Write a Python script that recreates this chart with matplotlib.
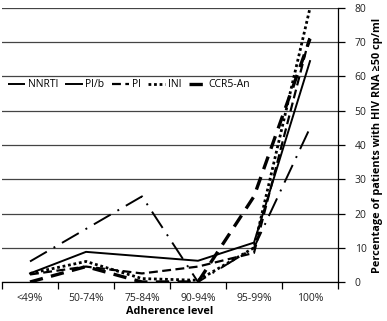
import matplotlib
matplotlib.use("Agg")
import matplotlib.pyplot as plt

plt.rcParams['font.family'] = ['Open Sans', 'DejaVu Sans']

categories = ["<49%", "50-74%", "75-84%", "90-94%", "95-99%", "100%"]
nnrti = [6, 15.5, 25, 0, 10, 45]
pib = [2.5, 8.8, 7.5, 6.2, 11.5, 64.5]
pi = [2.2, 4.5, 2.5, 4.5, 8.5, 72]
ini = [2.5, 6, 1, 0.5, 10, 80]
ccr5 = [0, 4.5, 0, 0, 25, 71]
yticks = [0, 10, 20, 30, 40, 50, 60, 70, 80]

W, H = 387, 321
fig = plt.figure(figsize=(W/100, H/100), dpi=100)
ax = fig.add_axes([2/W, (H-282)/H, 336/W, 274/H])

x = list(range(len(categories)))
ax.plot(x, nnrti, color='black', lw=1.4, linestyle=(0, (10, 4, 1, 4)), label='NNRTI')
ax.plot(x, pib, color='black', lw=1.4, linestyle='-', label='PI/b')
ax.plot(x, pi, color='black', lw=1.6, linestyle=(0, (4, 2)), label='PI')
ax.plot(x, ini, color='black', lw=2.0, linestyle=(0, (1, 1)), label='INI')
ax.plot(x, ccr5, color='black', lw=2.4, linestyle=(0, (4, 2.5)), label='CCR5-An')

ax.set_xlim(-0.5, len(categories) - 0.5)
ax.set_ylim(0, 80)
ax.set_xticks(x)
ax.set_xticklabels(categories, fontsize=7.5, color='#222222')
ax.set_xticks([i - 0.5 for i in range(len(categories) + 1)], minor=True)
ax.tick_params(axis='x', which='major', length=0, pad=8)
ax.tick_params(axis='x', which='minor', length=5, width=0.9, direction='out')

ax.yaxis.tick_right()
ax.yaxis.set_label_position('right')
ax.set_yticks(yticks)
ax.set_yticklabels([str(v) for v in yticks], fontsize=7.5, color='#222222')
ax.tick_params(axis='y', length=5, width=0.9, direction='out', pad=7)
ax.grid(axis='y', color='#444444', lw=0.9)
ax.set_axisbelow(True)

for s in ['top', 'left']:
    ax.spines[s].set_visible(False)
ax.spines['right'].set_linewidth(0.9)
ax.spines['bottom'].set_linewidth(0.9)

ax.set_xlabel('Adherence level', fontsize=7.8, fontweight='bold', labelpad=1)
ax.set_ylabel('Percentage of patients with HIV RNA ≥50 cp/ml', fontsize=7.8,
              fontweight='bold', labelpad=4)

leg = ax.legend(loc='center left', bbox_to_anchor=(0.0, 0.72), ncol=5, frameon=False,
                fontsize=7.5, handlelength=1.6, handletextpad=0.3, columnspacing=0.7,
                borderaxespad=0.2)

fig.savefig('out.png', dpi=100)
